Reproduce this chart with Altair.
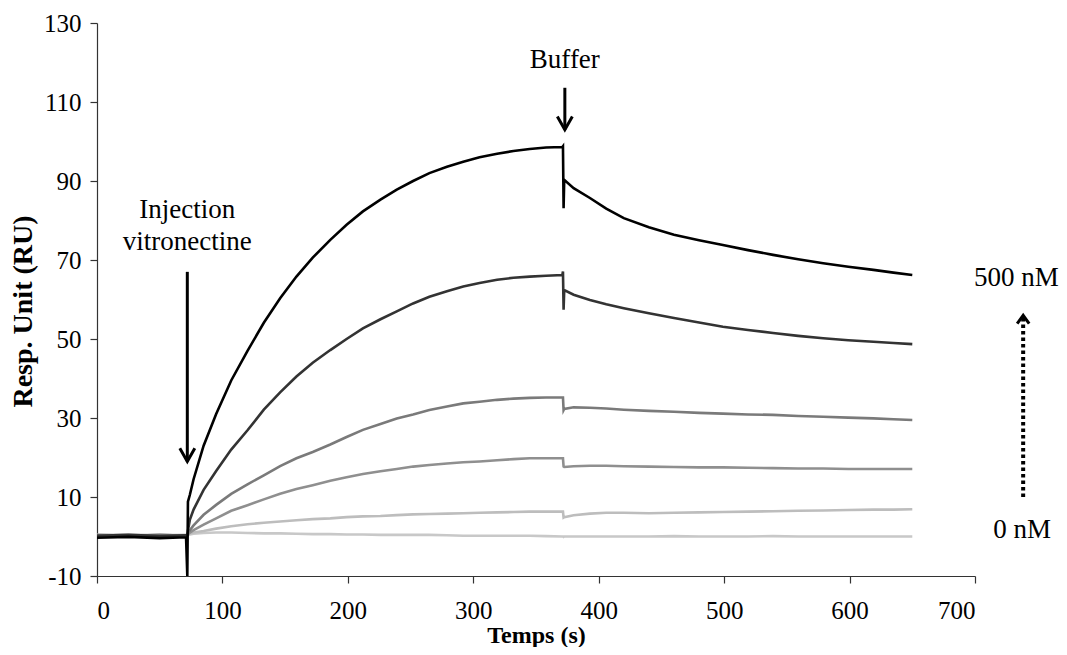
import altair as alt
import pandas as pd

# ---------------- data ----------------
TIME = [0, 25, 50, 71, 72, 72.5, 74, 77, 85, 95, 107, 120,
        133, 146, 159, 172, 186, 199, 212, 226,
        239, 252, 265, 279, 292, 305, 319, 332,
        345, 358, 371, 371.5, 372, 372.5,
        380, 393, 406, 420, 440, 460, 480, 499,
        519, 539, 559, 579, 599, 619, 635, 650]

C500 = [-0.3, -0.1, -0.4, -0.2, -10, 8.8, 10.5, 14.5, 23.0, 31.0, 39.5, 47.0,
        54.1, 60.3, 65.8, 70.6, 75.1, 78.9, 82.3, 85.3,
        87.8, 90.0, 92.0, 93.6, 94.9, 96.0, 96.9, 97.6,
        98.1, 98.5, 98.6, 98.8, 83.1, 90.3,
        88.2, 85.7, 83.0, 80.6, 78.3, 76.4, 75.0, 73.8,
        72.5, 71.3, 70.2, 69.2, 68.3, 67.5, 66.8, 66.2]

C250 = [0.2, 0.4, 0.1, 0.3, 0.3, 1.5, 4.2, 6.8, 11.8, 16.6, 22.0, 26.9,
        32.1, 36.5, 40.5, 44.0, 47.2, 50.0, 52.7, 55.0,
        57.0, 59.0, 60.7, 62.1, 63.3, 64.2, 65.0, 65.5,
        65.8, 66.0, 66.2, 67.1, 57.4, 62.4,
        61.2, 59.9, 58.8, 57.8, 56.5, 55.3, 54.2, 53.1,
        52.3, 51.5, 50.8, 50.2, 49.7, 49.3, 49.0, 48.7]

C125 = [0.3, 0.1, 0.4, 0.2, 0.3, 0.9, 1.6, 2.8, 5.5, 8.0, 10.8, 13.2,
        15.5, 17.8, 19.8, 21.4, 23.3, 25.2, 27.0, 28.5,
        29.9, 30.9, 32.0, 32.9, 33.7, 34.1, 34.6, 34.9,
        35.1, 35.2, 35.2, 35.2, 32.0, 32.3,
        32.7, 32.6, 32.4, 32.1, 31.8, 31.6, 31.3, 31.1,
        30.9, 30.8, 30.5, 30.3, 30.1, 29.9, 29.7, 29.5]

C60 = [0.4, 0.2, 0.3, 0.1, 0.3, 0.6, 1.0, 1.6, 3.0, 4.6, 6.5, 7.9,
       9.4, 10.8, 12.0, 13.0, 14.1, 15.0, 15.8, 16.5,
       17.1, 17.7, 18.1, 18.5, 18.8, 19.0, 19.3, 19.6,
       19.8, 19.8, 19.8, 19.8, 17.7, 17.6,
       17.8, 17.9, 17.9, 17.8, 17.7, 17.6, 17.5, 17.5,
       17.4, 17.3, 17.2, 17.2, 17.1, 17.1, 17.1, 17.1]

C30 = [0.3, 0.5, 0.2, 0.4, 0.3, 0.5, 0.8, 1.0, 1.4, 2.0, 2.6, 3.1,
       3.5, 3.8, 4.1, 4.4, 4.6, 4.9, 5.1, 5.2,
       5.4, 5.6, 5.7, 5.8, 5.9, 6.0, 6.1, 6.2,
       6.3, 6.3, 6.3, 6.3, 4.8, 4.9,
       5.4, 5.8, 6.0, 6.0, 5.9, 6.0, 6.1, 6.2,
       6.3, 6.4, 6.5, 6.6, 6.7, 6.8, 6.8, 6.9]

C0 = [0.4, 0.3, 0.5, 0.3, 0.3, 0.4, 0.5, 0.7, 0.9, 1.0, 1.0, 0.9,
      0.8, 0.8, 0.7, 0.6, 0.6, 0.5, 0.5, 0.4,
      0.4, 0.4, 0.4, 0.3, 0.2, 0.2, 0.2, 0.2,
      0.2, 0.1, 0.0, 0.0, -0.1, 0.0,
      0.0, 0.0, 0.0, 0.0, 0.0, 0.1, 0.0, 0.0,
      0.0, 0.1, 0.0, 0.0, 0.0, 0.0, 0.0, 0.0]

# draw order: lightest first, black on top
CURVES = [C0, C30, C60, C125, C250, C500]
COLORS = ["#c8c8c8", "#bdbdbd", "#8f8f8f", "#7a7a7a", "#333333", "#000000"]

TEXT_LABELS = ["Injection", "vitronectine", "Buffer", "500 nM", "0 nM"]
TEXT_X = [72, 72, 373, 733, 737.5]
TEXT_Y = [80.7, 72.6, 118.7, 63.5, -0.4]

ARROW_X = [72, 373]
ARROW_TOP = [67.0, 113.6]
ARROW_TIP = [19.0, 103.0]

DOT_X = [738.4]
DOT_BOTTOM = [10.0]
DOT_TIP = [56.0]

X_TICKS = [0, 100, 200, 300, 400, 500, 600, 700]
Y_TICKS = [-10, 10, 30, 50, 70, 90, 110, 130]

FONT = "Liberation Serif"

# ---------------- chart ----------------
xs = alt.Scale(domain=[0, 700], nice=False, zero=False)
ys = alt.Scale(domain=[-10, 130], nice=False, zero=False)
x_axis = alt.Axis(
    values=X_TICKS, title="Temps (s)", labelPadding=15,
    titleFontSize=24, titleBaseline="alphabetic", titleY=66,
)
y_axis = alt.Axis(
    values=Y_TICKS, title="Resp. Unit (RU)", labelPadding=9, titlePadding=6,
    titleFontSize=28, titleY=288, labelExpr="'' + datum.value",
)


def X(field):
    return alt.X(field, type="quantitative", scale=xs, axis=x_axis)


def Y(field):
    return alt.Y(field, type="quantitative", scale=ys, axis=y_axis)


layers = []
for vals, col in zip(CURVES, COLORS):
    df = pd.DataFrame({"t": TIME, "v": vals, "i": list(range(len(TIME)))})
    layers.append(
        alt.Chart(df).mark_line(color=col, strokeWidth=2.6, clip=True).encode(
            x=X("t"), y=Y("v"), order=alt.Order("i:Q")
        )
    )

txt_df = pd.DataFrame({"x": TEXT_X, "y": TEXT_Y, "label": TEXT_LABELS})
layers.append(
    alt.Chart(txt_df).mark_text(
        font=FONT, fontSize=27, color="black", align="center", baseline="alphabetic"
    ).encode(x=X("x"), y=Y("y"), text="label:N")
)

arr_df = pd.DataFrame({"x": ARROW_X, "top": ARROW_TOP, "tip": ARROW_TIP})
layers.append(
    alt.Chart(arr_df).mark_rule(color="black", strokeWidth=3).encode(
        x=X("x"), y=Y("top"), y2=alt.Y2("tip")
    )
)
layers.append(
    alt.Chart(arr_df).mark_point(
        shape="M-1,-1.75L0,0L1,-1.75", size=225, filled=False,
        color="black", strokeWidth=3, opacity=1
    ).encode(x=X("x"), y=Y("tip"))
)

dot_df = pd.DataFrame({"x": DOT_X, "bottom": DOT_BOTTOM, "tip": DOT_TIP})
layers.append(
    alt.Chart(dot_df).mark_rule(
        color="black", strokeWidth=4, strokeDash=[3.5, 3], strokeCap="butt"
    ).encode(x=X("x"), y=Y("bottom"), y2=alt.Y2("tip"))
)
layers.append(
    alt.Chart(dot_df).mark_point(
        shape="M-1,1.4L0,0L1,1.4", size=144, filled=False,
        color="black", strokeWidth=3, opacity=1
    ).encode(x=X("x"), y=Y("tip"))
)

chart = (
    alt.layer(*layers)
    .properties(
        width=878,
        height=553,
        autosize=alt.AutoSizeParams(type="none"),
        padding={"left": 89, "top": 15, "right": 84, "bottom": 71},
    )
    .configure_view(stroke=None)
    .configure_axis(
        labelFont=FONT,
        titleFont=FONT,
        labelFontSize=25,
        labelColor="black",
        titleColor="black",
        titleFontWeight="bold",
        domainColor="#333333",
        tickColor="#333333",
        domainWidth=1.2,
        tickWidth=1.2,
        tickSize=7,
        grid=False,
    )
)

chart.save("out.html", embed_options={"renderer": "svg", "actions": False})
